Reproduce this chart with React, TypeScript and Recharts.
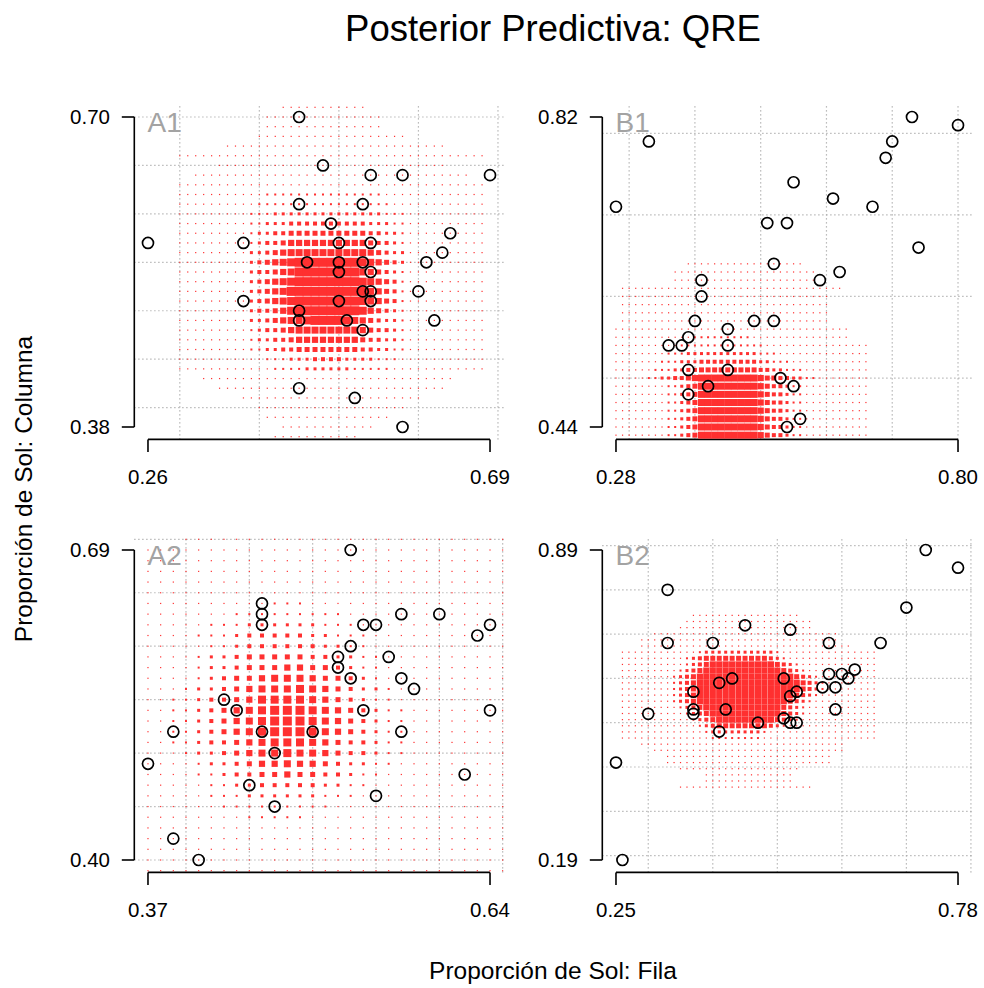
import React from 'react';
import { ScatterChart, Scatter, XAxis, YAxis, ReferenceLine } from 'recharts';

const FONT = '"Liberation Sans", Arial, Helvetica, sans-serif';
const RED = '#ff3030';
const GRID = '#a8a8a8';

// observed proportions per game: [fila, columna]
const obsA1: [number, number][] = [
  [0.45, 0.70], [0.48, 0.65], [0.54, 0.64], [0.58, 0.64], [0.69, 0.64], [0.45, 0.61], [0.53, 0.61],
  [0.49, 0.59], [0.26, 0.57], [0.38, 0.57], [0.50, 0.57], [0.54, 0.57], [0.64, 0.58], [0.63, 0.56],
  [0.61, 0.55], [0.46, 0.55], [0.50, 0.55], [0.53, 0.55], [0.50, 0.54], [0.54, 0.54], [0.53, 0.52],
  [0.54, 0.52], [0.60, 0.52], [0.38, 0.51], [0.50, 0.51], [0.54, 0.51], [0.45, 0.50], [0.45, 0.49],
  [0.51, 0.49], [0.62, 0.49], [0.53, 0.48], [0.45, 0.42], [0.52, 0.41], [0.58, 0.38],
];
const obsB1: [number, number][] = [
  [0.73, 0.82], [0.80, 0.81], [0.33, 0.79], [0.70, 0.79], [0.69, 0.77], [0.28, 0.71], [0.55, 0.74],
  [0.61, 0.72], [0.67, 0.71], [0.51, 0.69], [0.54, 0.69], [0.74, 0.66], [0.62, 0.63], [0.59, 0.62],
  [0.52, 0.64], [0.41, 0.62], [0.41, 0.60], [0.40, 0.57], [0.49, 0.57], [0.52, 0.57], [0.45, 0.56],
  [0.39, 0.55], [0.36, 0.54], [0.38, 0.54], [0.45, 0.54], [0.39, 0.51], [0.45, 0.51], [0.53, 0.50],
  [0.55, 0.49], [0.42, 0.49], [0.39, 0.48], [0.56, 0.45], [0.54, 0.44],
];
const obsA2: [number, number][] = [
  [0.53, 0.69], [0.46, 0.64], [0.46, 0.63], [0.46, 0.62], [0.54, 0.62], [0.55, 0.62], [0.57, 0.63],
  [0.60, 0.63], [0.64, 0.62], [0.63, 0.61], [0.53, 0.60], [0.52, 0.59], [0.52, 0.58], [0.53, 0.57],
  [0.56, 0.59], [0.57, 0.57], [0.58, 0.56], [0.43, 0.55], [0.44, 0.54], [0.54, 0.54], [0.64, 0.54],
  [0.39, 0.52], [0.46, 0.52], [0.50, 0.52], [0.57, 0.52], [0.47, 0.50], [0.37, 0.49], [0.62, 0.48],
  [0.45, 0.47], [0.55, 0.46], [0.47, 0.45], [0.39, 0.42], [0.41, 0.40],
];
const obsB2: [number, number][] = [
  [0.73, 0.89], [0.78, 0.85], [0.33, 0.80], [0.70, 0.76], [0.45, 0.72], [0.52, 0.71], [0.33, 0.68],
  [0.40, 0.68], [0.58, 0.68], [0.66, 0.68], [0.62, 0.62], [0.58, 0.61], [0.60, 0.61], [0.61, 0.60],
  [0.57, 0.58], [0.59, 0.58], [0.59, 0.53], [0.43, 0.60], [0.41, 0.59], [0.51, 0.60], [0.37, 0.57],
  [0.53, 0.57], [0.52, 0.56], [0.37, 0.53], [0.37, 0.52], [0.30, 0.52], [0.42, 0.53], [0.51, 0.51],
  [0.52, 0.50], [0.53, 0.50], [0.47, 0.50], [0.41, 0.48], [0.25, 0.41], [0.26, 0.19],
];

// posterior predictive mass on the outcome grid, one string per row (top row first).
// each char is a weight level 0-9; "s*n" repeats s n times
const gridA1 = { x0: 0.30, dx: 0.01, y0: 0.71, dy: 0.01 };
const predA1 = [
  '0*13 1*11 0*15', '0*11 1*15 0*13', '0*11 1*15 0*13', '0*10 1*19 0*10', '0*6 1*28 0*5',
  '1*39', '0*5 1*29 0*5', '0*2 1*35 0*2', '1*39', '1*11 2*15 1*13', '1*10 2*17 1*12',
  '1*9 2*3 3*14 2*3 1*10',
  '1*9 223334 4*8 433322 1*10',
  '1*9 233445 5*8 544332 1*10',
  '1*9 234456 6*8 654432 1*10',
  '1*9 334567 7*8 765433 1*10',
  '1*9 345678 9*8 876543 1*10',
  '1*9 344567 9*8 765432 1*10',
  '1*9 345678 9*8 876542 1*10',
  '1*9 345679 9*8 976542 1*10',
  '1*9 345678 9*8 876542 1*10',
  '1*9 344568 9*8 865432 1*10',
  '1*9 334567 78999987 654332 1*10',
  '1*9 234456 7*8 654432 1*10',
  '1*9 233445 6*8 544332 1*10',
  '1*9 223344 5*8 443322 1*10',
  '1*11 2*3 3*3 4*4 3*4 2*3 1*11',
  '1*12 2*4 3*6 2*5 1*12',
  '0*3 1*32 0*4', '0*5 1*29 0*5', '0*8 1*23 0*8', '0*10 1*19 0*10', '0*11 1*16 0*12',
  '0*13 1*12 0*14', '0*12 1*11 0*16',
];

const gridB1 = { x0: 0.28, dx: 0.01, y0: 0.64, dy: 0.01 };
const predB1 = [
  '0*11 1*18 0*10', '0*9 1*22 0*8', '0*9 1*22 0*8', '0 1*34 0*4', '0 1*32 0*6', '0 1*32 0*6',
  '0 1*32 0*6', '0 1*32 0*6', '1*36 0*3', '1*12 2*9 1*15 0*3', '1*10 2*13 1*16',
  '1*8 2*3 3*11 2*3 1*14',
  '1*7 2*3 3*3 4*9 3*2 2*3 1*12',
  '1*6 2*3 3*2 4*2 5*9 4*2 3*2 2*3 1*10',
  '1*5 2*2 3*2 4*2 5 6 7*9 6 5*2 4*2 3*2 2*2 1*8',
  '1*8 2*2 345 7*9 6544322 1*10',
  '1*8 2*2 345 7*9 6544322 1*10',
  '1*8 2*2 345 7*9 6544322 1*10',
  '1*8 2*2 345 7*9 6544322 1*10',
  '1*8 2*2 345 7*9 6544322 1*10',
  '1*8 2*2 345 7*9 6544322 1*10',
  '1*8 2*2 345 7*9 6544322 1*10',
];

const gridA2 = { x0: 0.37, dx: 0.01, y0: 0.70, dy: 0.01 };
const predA2 = [
  '0*3 1*26', '1*29', '1*29', '1*29', '1*29', '1*29',
  '1*10 2*3 1*16',
  '1*7 2*9 1*13',
  '1*5 2*3 3*6 2*3 1*12',
  '1*4 2*3 3 4*5 3*2 2*3 1*11',
  '1*5 2*2 3 4*6 3*2 2*2 1*11',
  '1*4 2 3*2 4 5*5 4*2 3*2 2*2 1*10',
  '1*4 2 3*2 4 5*3 6*2 5*2 4 3 2*2 1*10',
  '1*4 2 3 4 5*2 6 7*3 6 5*2 4 3 2 1*10',
  '1*3 2 3*2 4 5 6 7*3 8 7 6 5 4 3*2 2 1*9',
  '1*2 2*2 3 4*2 5 6 8*4 7 6 5 4 3 2*2 1*9',
  '1*2 2*2 3 4 5 6 7 8 9*3 8 7 6 5 4 3 2*2 1*8',
  '1*2 2*2 3 4 5 6 7 8 9*3 8 7 6 5 4 3 2*2 1*8',
  '1*2 2*2 3 4 5 6 7 8 9*3 8 7 6 5 4 3 2*2 1*8',
  '1*2 2*2 3 4*2 5 6 7 8*3 7 6 5 4*2 3 2*2 1*8',
  '1*3 2 3*2 4 5 6 7*2 8 7*2 6 5 4*2 3 2*2 1*8',
  '1*4 2 3*2 4 5 6*2 7 6*2 5 4 3*2 2*2 1*9',
  '1*4 2 2 3 4 4 5*2 6 5*2 4 4 3 2*2 1*10',
  '1*5 2*2 3*2 4*5 3*2 2*2 1*11',
  '1*5 2*3 3*6 2*3 1*12',
  '1*6 2*9 1*14',
  '1*8 2*5 1*16',
  '1*29', '1*29', '1*29', '1*29', '1*29',
];

const gridB2 = { x0: 0.26, dx: 0.01, y0: 0.7424, dy: 0.01385 };
const predB2 = [
  '0*11 1*17 0*12', '0*10 1*20 0*10', '0*9 1*21 0*10', '0*5 1*29 0*6', '0*3 1*31 0*6',
  '0*3 1*33 0*4',
  '1*12 2 3*11 2 1*15',
  '1*10 2 3 4 5*10 4 3 2 1*14',
  '1*10 2 3 4 5 6*10 5 4 3 2 1*12',
  '1*9 2 3 4 5 6*12 5 4 3 2 1*11',
  '1*8 2 3 4 5 6*15 5 4 3 2 1*9',
  '1*8 2 3 4 5 6*16 5 4 3 2 1*8',
  '1*8 2 3 4 5 6*16 5 4 3 2 1*8',
  '1*8 2 3 4 5 6*15 5 4 3 2 1*9',
  '1*8 2 3 4 5 6*14 5 4 3 2 1*10',
  '1*9 2 3 4 5 6*12 5 4 3 2 1*11',
  '1*10 2 3 4 5 6*11 5 4 3 2 1*11',
  '1*11 2 3 4 5 6*9 5 4 3 2 1*12',
  '1*12 2 3 4 5*8 4 3 2 1*14',
  '1*13 2 3*8 2 1*17',
  '1*14 2*8 1*18',
  '0*3 1*32 0*5', '0*5 1*30 0*5', '0*7 1*26 0*7', '0*7 1*26 0*7', '0*9 1*19 0*12',
  '0*13 1*14 0*13', '0*13 1*14 0*13', '0*9 1*21 0*10',
];

// axis ranges (first/last tick) and dotted grid values
const rangeA1 = { x: [0.26, 0.69], y: [0.38, 0.70] };
const rangeB1 = { x: [0.28, 0.80], y: [0.44, 0.82] };
const rangeA2 = { x: [0.37, 0.64], y: [0.40, 0.69] };
const rangeB2 = { x: [0.25, 0.78], y: [0.19, 0.89] };
const gridLinesA1 = { x: [0.3, 0.4, 0.5, 0.6, 0.7], y: [0.4, 0.45, 0.5, 0.55, 0.6, 0.65, 0.7] };
const gridLinesB1 = { x: [0.3, 0.4, 0.5, 0.6, 0.7, 0.8], y: [0.5, 0.6, 0.7, 0.8] };
const gridLinesA2 = { x: [0.4, 0.45, 0.5, 0.55, 0.6, 0.65], y: [0.4, 0.45, 0.5, 0.55, 0.6, 0.65, 0.7] };
const gridLinesB2 = { x: [0.3, 0.4, 0.5, 0.6, 0.7, 0.8], y: [0.2, 0.3, 0.4, 0.5, 0.6, 0.7, 0.8, 0.9] };

// panel box and plot margins (px)
const PW = 468, PH = 433;
const ML = 86.3, MT = 43.6, MR = 12.3, MB = 54.6;
const SIDE = [0, 1.2, 2, 3, 4, 5, 6.2, 7, 8, 9];

function expandRow(row: string) {
  return row.split(' ').map(tok => {
    const parts = tok.split('*');
    return parts.length === 2 ? parts[0].repeat(Number(parts[1])) : tok;
  }).join('');
}

function cellsOf(rows: string[], g: { x0: number; dx: number; y0: number; dy: number }) {
  const out: { x: number; y: number; lv: number }[] = [];
  rows.forEach((row, i) => {
    const s = expandRow(row);
    for (let j = 0; j < s.length; j++) {
      const lv = parseInt(s[j], 10);
      if (lv > 0) out.push({ x: g.x0 + j * g.dx, y: g.y0 - i * g.dy, lv });
    }
  });
  return out;
}

const square = (p: any) => {
  const s = SIDE[p.payload.lv];
  return <rect x={p.cx - s / 2} y={p.cy - s / 2} width={s} height={s} fill={RED} />;
};
const ring = (p: any) => (
  <circle cx={p.cx} cy={p.cy} r={5.5} fill="none" stroke="#000" strokeWidth={1.7} />
);

const xTick = (p: any) => (
  <text x={p.x} y={p.y} dy={32.4} textAnchor="middle" fontSize={20.5} fontFamily={FONT} fill="#000">
    {Number(p.payload.value).toFixed(2)}
  </text>
);
const yTick = (p: any) => (
  <text x={p.x - 11.8} y={p.y} dy={7.3} textAnchor="end" fontSize={20.5} fontFamily={FONT} fill="#000">
    {Number(p.payload.value).toFixed(2)}
  </text>
);

function Panel({ left, top, range, lines, obs, cells }: any) {
  const px = (range.x[1] - range.x[0]) * 0.04;
  const py = (range.y[1] - range.y[0]) * 0.04;
  const xd = [range.x[0] - px, range.x[1] + px];
  const yd = [range.y[0] - py, range.y[1] + py];
  const obsData = obs.map(([x, y]: [number, number]) => ({ x, y }));
  return (
    <div style={{ position: 'absolute', left, top }}>
      <ScatterChart width={PW} height={PH} margin={{ top: MT, right: MR, bottom: 0, left: 0 }}>
        <XAxis type="number" dataKey="x" domain={xd} allowDataOverflow ticks={range.x} interval={0}
          height={MB} tickSize={12.5} tickMargin={0} axisLine={false}
          tickLine={{ stroke: '#000', strokeWidth: 1.6 }} tick={xTick} />
        <YAxis type="number" dataKey="y" domain={yd} allowDataOverflow ticks={range.y} interval={0}
          width={ML} tickSize={12.5} tickMargin={0} axisLine={false}
          tickLine={{ stroke: '#000', strokeWidth: 1.6 }} tick={yTick} />
        <Scatter data={cells} shape={square} isAnimationActive={false} />
        {lines.x.map((v: number) => (
          <ReferenceLine key={'gx' + v} x={v} stroke={GRID} strokeWidth={1.2} strokeDasharray="1.2 2.8" />
        ))}
        {lines.y.map((v: number) => (
          <ReferenceLine key={'gy' + v} y={v} stroke={GRID} strokeWidth={1.2} strokeDasharray="1.2 2.8" />
        ))}
        <Scatter data={obsData} shape={ring} isAnimationActive={false} />
        <ReferenceLine segment={[{ x: range.x[0], y: yd[0] }, { x: range.x[1], y: yd[0] }]}
          stroke="#000" strokeWidth={1.6} ifOverflow="visible" />
        <ReferenceLine segment={[{ x: xd[0], y: range.y[0] }, { x: xd[0], y: range.y[1] }]}
          stroke="#000" strokeWidth={1.6} ifOverflow="visible" />
      </ScatterChart>
    </div>
  );
}

const panels = [
  { id: 'A1', left: 48, top: 61, range: rangeA1, lines: gridLinesA1, obs: obsA1, cells: cellsOf(predA1, gridA1) },
  { id: 'B1', left: 516, top: 61, range: rangeB1, lines: gridLinesB1, obs: obsB1, cells: cellsOf(predB1, gridB1) },
  { id: 'A2', left: 48, top: 494, range: rangeA2, lines: gridLinesA2, obs: obsA2, cells: cellsOf(predA2, gridA2) },
  { id: 'B2', left: 516, top: 494, range: rangeB2, lines: gridLinesB2, obs: obsB2, cells: cellsOf(predB2, gridB2) },
];

export default function App() {
  const plotW = PW - ML - MR;
  return (
    <div style={{ position: 'absolute', left: 0, top: 0, width: 984, height: 988, background: '#fff', fontFamily: FONT }}>
      {panels.map(p => (
        <Panel key={p.id} left={p.left} top={p.top} range={p.range} lines={p.lines} obs={p.obs} cells={p.cells} />
      ))}
      <svg width={984} height={988} style={{ position: 'absolute', left: 0, top: 0, pointerEvents: 'none' }}>
        <text x={553} y={41} textAnchor="middle" fontSize={36.5} fontFamily={FONT} fill="#000">
          Posterior Predictiva: QRE
        </text>
        <text x={553} y={979} textAnchor="middle" fontSize={24.5} fontFamily={FONT} fill="#000">
          Proporción de Sol: Fila
        </text>
        <text transform="translate(32,489) rotate(-90)" textAnchor="middle" fontSize={24.5} fontFamily={FONT} fill="#000">
          Proporción de Sol: Columna
        </text>
        {panels.map(p => (
          <text key={'lab' + p.id} x={p.left + ML + plotW * 0.04 / 1.08 - 0.5} y={p.top + MT + 27.4}
            fontSize={28} fontFamily={FONT} fill="#a3a3a3">
            {p.id}
          </text>
        ))}
      </svg>
    </div>
  );
}
